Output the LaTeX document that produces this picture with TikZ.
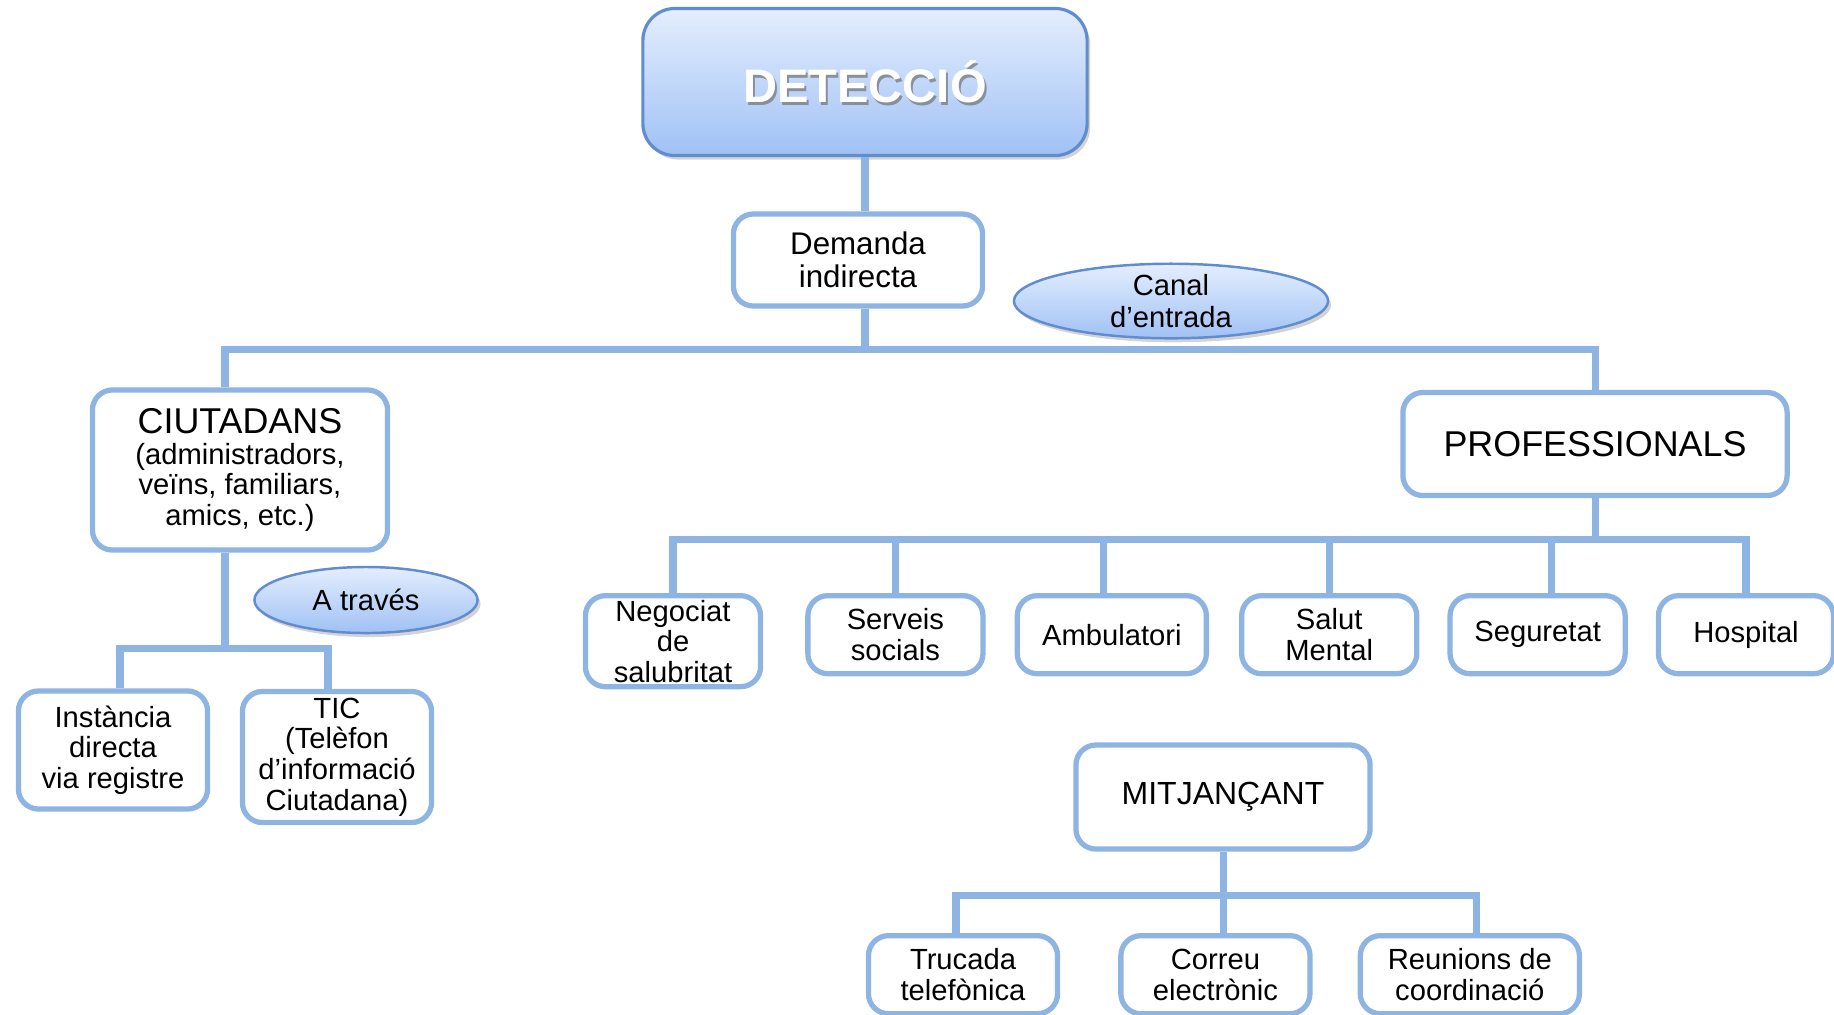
\documentclass[tikz,border=0pt]{standalone}
\usepackage{fontspec}
\setmainfont{Liberation Sans}
\usetikzlibrary{positioning,calc,shadows,shapes.geometric}

\definecolor{lineblue}{RGB}{142,180,227}
\definecolor{rimblue}{RGB}{96,140,210}
\definecolor{topblue}{RGB}{228,238,253}
\definecolor{botblue}{RGB}{160,193,245}

\begin{document}
\begin{tikzpicture}[x=0.01cm, y=-0.01cm,
        box/.style={draw=lineblue, line width=1.5pt, rounded corners=0.2cm, fill=white, align=center,
            inner sep=1pt, minimum width=1.75cm, minimum height=0.78cm, font=\fontsize{8.3}{8.7}\selectfont},
        headbox/.style={box, font=\fontsize{10.2}{11}\selectfont},
        titlebox/.style={draw=rimblue, line width=0.9pt, rounded corners=0.32cm, top color=topblue, bottom color=botblue,
            drop shadow={opacity=0.35, shadow xshift=0.03cm, shadow yshift=-0.04cm},
            minimum width=4.44cm, minimum height=1.47cm},
        titletext/.style={font=\fontsize{13.4}{14}\bfseries\selectfont, text=white},
        oval/.style={ellipse, draw=rimblue, line width=0.7pt, top color=topblue, bottom color=botblue,
            drop shadow={opacity=0.35, shadow xshift=0.03cm, shadow yshift=-0.04cm},
            align=center, inner sep=0pt, font=\fontsize{8.3}{8.9}\selectfont},
        conn/.style={draw=lineblue, line width=2pt}
    ]
        \useasboundingbox (0,0) rectangle (1834,1014);

        % top of the tree
        \node [titlebox] (det) at (865,82) {};
        \node [titletext, text=black!55, opacity=0.7] (detshade) at ([shift={(2,3)}]det.center) {DETECCIÓ};
        \node [titletext] (dettext) at (det.center) {DETECCIÓ};
        \node [box, minimum width=2.49cm, minimum height=0.92cm, font=\fontsize{8.9}{9.4}\selectfont] (dem) at (858,260) {Demanda\\indirecta};
        \node [oval, minimum width=3.14cm, minimum height=0.67cm] (canal) at (1171,301) {Canal\\d’entrada};

        % citizens
        \node [box, minimum width=2.95cm, minimum height=1.6cm] (ciu) at (240,470)
            {{\fontsize{10.2}{11}\selectfont CIUTADANS}\\(administradors,\\veïns, familiars,\\amics, etc.)};
        \node [oval, minimum width=2.23cm, minimum height=0.66cm] (via) at (366,600) {A través};
        \node [box, minimum width=1.89cm, minimum height=1.18cm] (inst) at (113,750) {Instància\\directa\\via registre};
        \node [box, minimum width=1.89cm, minimum height=1.31cm] (tic) at (337,757) {TIC\\(Telèfon\\d’informació\\Ciutadana)};

        % professionals
        \node [headbox, minimum width=3.84cm, minimum height=1.03cm] (prof) at (1595,444) {PROFESSIONALS};
        \node [box, minimum height=0.91cm, anchor=north] (neg) at (673,593) {Negociat\\de\\salubritat};
        \node [box, right=0.42cm of neg.north east, anchor=north west] (serv) {Serveis\\socials};
        \node [box, minimum width=1.89cm, right=0.29cm of serv.north east, anchor=north west] (amb) {Ambulatori};
        \node [box, right=0.30cm of amb.north east, anchor=north west] (salut) {Salut\\Mental};
        \node [box, right=0.28cm of salut.north east, anchor=north west] (seg) {Seguretat};
        \node [box, right=0.28cm of seg.north east, anchor=north west] (hosp) {Hospital};

        % means
        \node [headbox, minimum width=2.94cm, minimum height=1.04cm, font=\fontsize{9.1}{10}\selectfont] (mitj) at (1223,797) {MITJANÇANT};
        \node [box, minimum width=1.89cm, anchor=north] (truc) at (963,933) {Trucada\\telefònica};
        \node [box, minimum width=1.89cm, right=0.58cm of truc.north east, anchor=north west] (correu) {Correu\\electrònic};
        \node [box, minimum width=2.19cm, right=0.45cm of correu.north east, anchor=north west] (reun) {Reunions de\\coordinació};

        \coordinate (bar) at (225,349);
        \coordinate (ciubar) at (225,648);
        \coordinate (pbar) at (1595,539);
        \coordinate (mbar) at (1223,895);

        \draw [conn] (det.south) -- (det.south |- dem.north);
        \draw [conn] (det.south |- dem.south) -- (det.south |- bar);
        \draw [conn] (ciu.north -| bar) -- (bar) -- (bar -| prof.north) -- (prof.north);
        \draw [conn] (ciu.south -| ciubar) -- (ciubar);
        \draw [conn] ([xshift=0.07cm]inst.north) -- ([xshift=0.07cm]inst.north |- ciubar)
            -- ([xshift=-0.09cm]tic.north |- ciubar) -- ([xshift=-0.09cm]tic.north);
        \draw [conn] (prof.south) -- (pbar);
        \draw [conn] (neg.north) -- (neg.north |- pbar) -- (hosp.north |- pbar) -- (hosp.north);
        \draw [conn] (serv.north) -- (serv.north |- pbar);
        \draw [conn] ([xshift=-0.08cm]amb.north) -- ([xshift=-0.08cm]amb.north |- pbar);
        \draw [conn] (salut.north) -- (salut.north |- pbar);
        \draw [conn] ([xshift=0.14cm]seg.north) -- ([xshift=0.14cm]seg.north |- pbar);
        \draw [conn] (mitj.south) -- (mbar) -- (correu.north -| mbar);
        \draw [conn] ([xshift=-0.07cm]truc.north) -- ([xshift=-0.07cm]truc.north |- mbar)
            -- ([xshift=0.07cm]reun.north |- mbar) -- ([xshift=0.07cm]reun.north);
    \end{tikzpicture}
\end{document}
